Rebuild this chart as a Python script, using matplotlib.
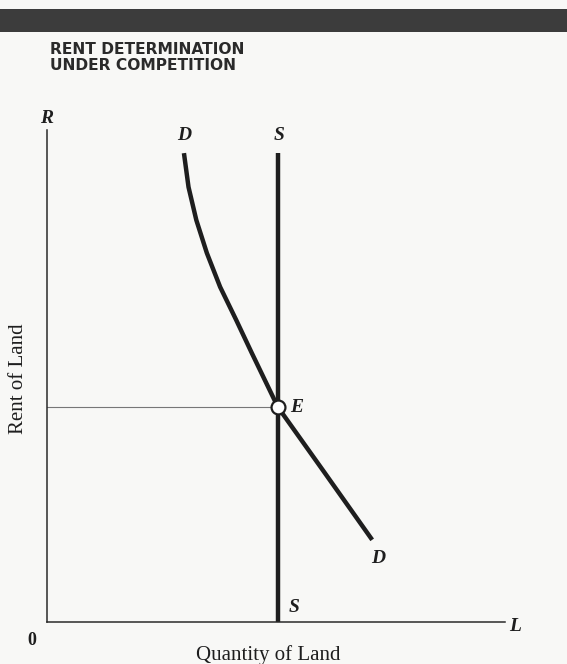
import matplotlib
matplotlib.use("Agg")
from matplotlib import pyplot as plt
from matplotlib.patches import Rectangle

# demand curve D (quantity of land, rent)
demand_q = [2.99, 3.09, 3.26, 3.49, 3.78, 4.13, 4.47, 5.04, 6.05, 7.10]
demand_r = [9.53, 8.84, 8.17, 7.50, 6.81, 6.14, 5.47, 4.37, 3.05, 1.67]

# fixed supply of land S
supply_q = [5.04, 5.04]
supply_r = [0.0, 9.53]

# equilibrium E
eq_q = 5.04
eq_r = 4.37

bg = "#f8f8f6"
ink = "#1e1e1e"
serif = ["Liberation Serif", "DejaVu Serif"]

fig = plt.figure(figsize=(5.67, 6.64), dpi=100, facecolor=bg)

# dark band across the top of the page
fig.patches.append(Rectangle((0, 1 - 32 / 664), 1, 23 / 664, transform=fig.transFigure,
                             facecolor="#3c3c3c", edgecolor="none"))

fig.text(50 / 567, 1 - 42 / 664, "RENT DETERMINATION\nUNDER COMPETITION",
         ha="left", va="top", fontsize=11.2, fontweight="bold", linespacing=1.05,
         family=["Liberation Sans Narrow", "DejaVu Sans"], color="#2a2a2a")

ax = fig.add_axes([47 / 567, 42 / 664, 458 / 567, 492 / 664])
ax.set_facecolor(bg)
ax.set_xlim(0, 10)
ax.set_ylim(0, 10)
ax.set_xticks([])
ax.set_yticks([])
for side in ["top", "right"]:
    ax.spines[side].set_visible(False)
for side in ["left", "bottom"]:
    ax.spines[side].set_color("#2a2a2a")
    ax.spines[side].set_linewidth(1.1)

# guide line from the rent axis to E
ax.plot([0, eq_q], [eq_r, eq_r], color="#777777", lw=0.8)

ax.plot(supply_q, supply_r, color=ink, lw=3.2, solid_capstyle="butt", clip_on=False)
ax.plot(demand_q, demand_r, color=ink, lw=3.2, solid_capstyle="butt", solid_joinstyle="round")
ax.plot([eq_q], [eq_r], "o", ms=10, mfc="white", mec=ink, mew=1.6, zorder=5)

lab = dict(family=serif, style="italic", fontsize=14, color=ink, fontweight="bold")
ax.text(0, 10.24, "R", ha="center", va="center", **lab)
ax.text(2.99, 9.88, "D", ha="center", va="center", **lab)
ax.text(5.07, 9.88, "S", ha="center", va="center", **lab)
ax.text(5.30, 4.35, "E", ha="left", va="center", **lab)
ax.text(7.23, 1.30, "D", ha="center", va="center", **lab)
ax.text(5.39, 0.30, "S", ha="center", va="center", **lab)
ax.text(10.22, -0.10, "L", ha="center", va="center", clip_on=False, **lab)

ax.text(-0.33, -0.37, "0", ha="center", va="center", family=serif, fontsize=13,
        fontweight="bold", color=ink, clip_on=False)
ax.text(4.84, -0.67, "Quantity of Land", ha="center", va="center", family=serif,
        fontsize=15, color=ink, clip_on=False)
ax.text(-0.63, 4.94, "Rent of Land", ha="center", va="center", rotation=90,
        family=serif, fontsize=15, color=ink, clip_on=False)

plt.savefig("out.png", dpi=100, facecolor=bg)
